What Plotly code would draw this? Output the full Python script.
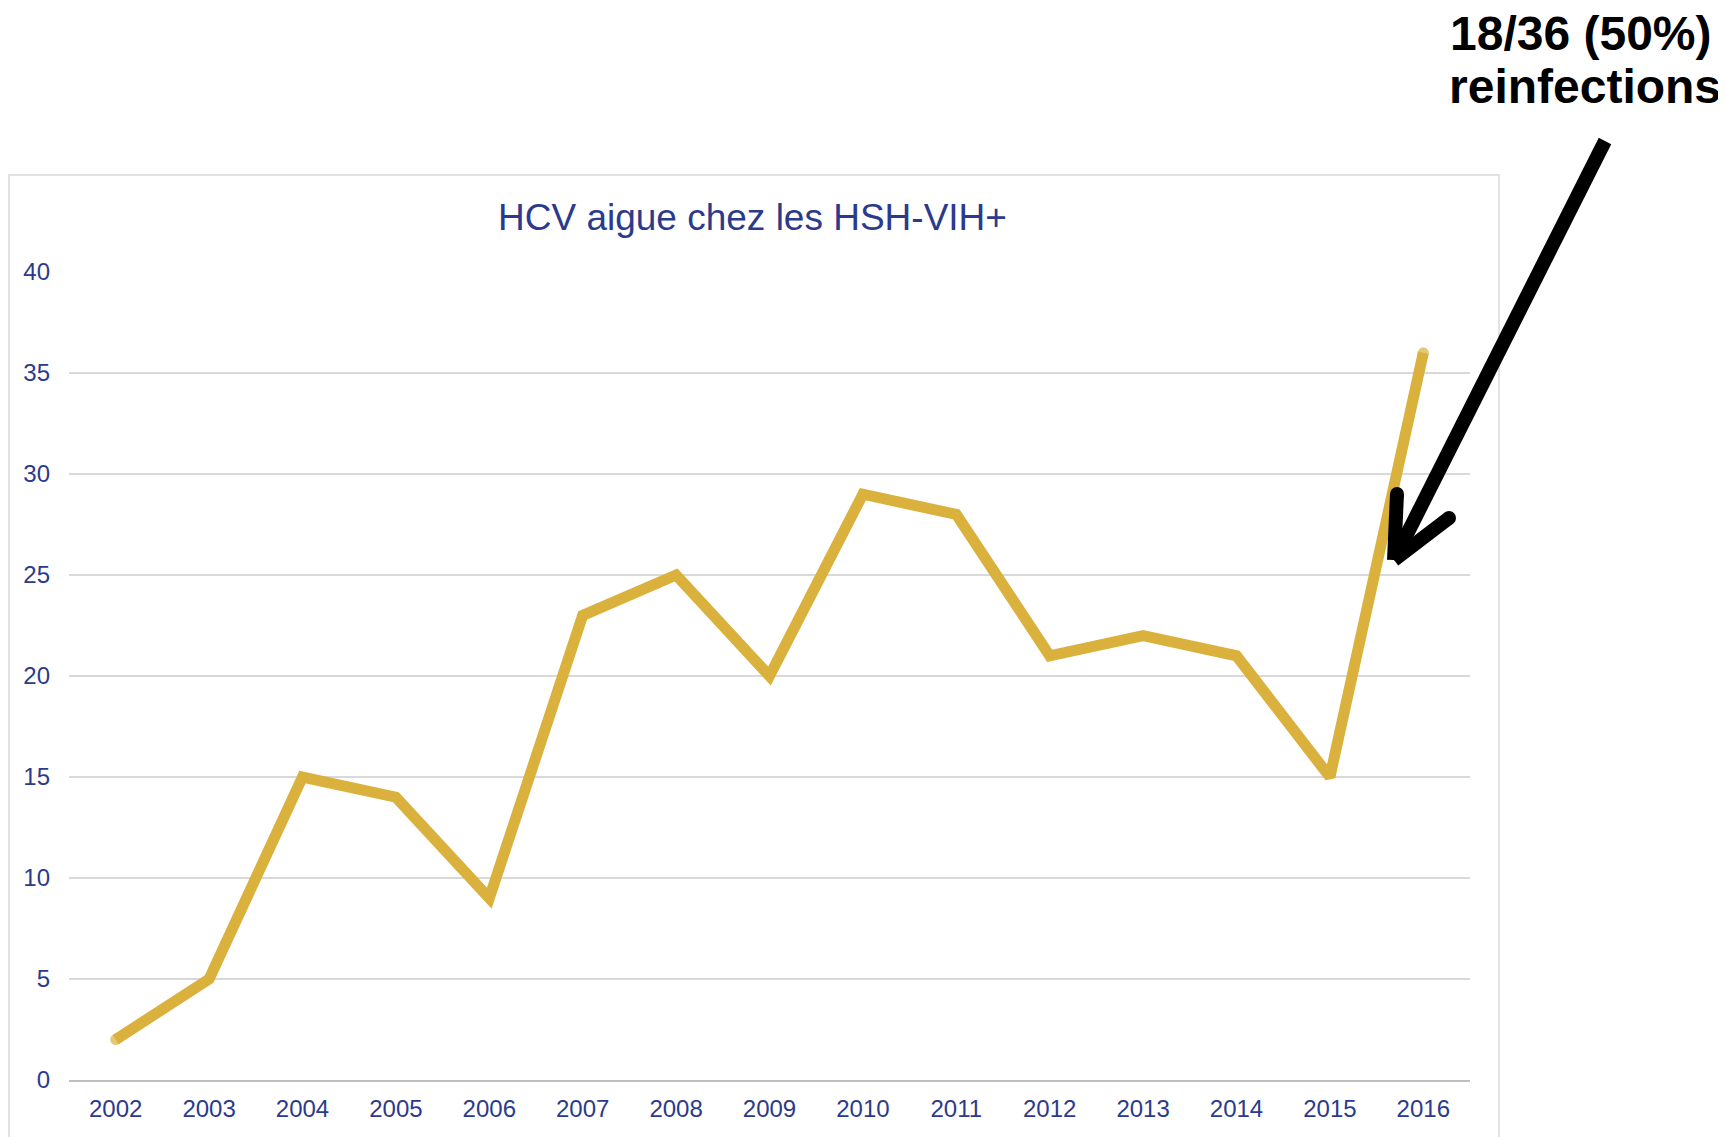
import plotly.graph_objects as go

years = ["2002", "2003", "2004", "2005", "2006", "2007", "2008", "2009",
         "2010", "2011", "2012", "2013", "2014", "2015", "2016"]
cases = [2, 5, 15, 14, 9, 23, 25, 20, 29, 28, 21, 22, 21, 15, 36]
y_ticks = [0, 5, 10, 15, 20, 25, 30, 35, 40]
title_text = "HCV aigue chez les HSH-VIH+"
note_line1 = "18/36 (50%)"
note_line2 = "reinfections"

OFF = 8                      # page body margin
W, H = 1726 - OFF, 1137 - OFF
L, R, T, B = 69, 1470, 272, 1080  # plot area bounds in page pixels

def px(x):
    return (x - L) / (R - L)

def py(y):
    return (B - y) / (B - T)

BLUE = "#2B3A8C"
GOLD = "#D9B13C"
FONT = "Liberation Sans, Arial, sans-serif"

n = len(years)
end_sizes = [11 if i in (0, n - 1) else 0 for i in range(n)]

fig = go.Figure()
fig.add_trace(go.Scatter(
    x=years, y=cases, mode="lines+markers",
    line=dict(color=GOLD, width=11),
    marker=dict(color=GOLD, size=end_sizes, line=dict(width=0)),
    hoverinfo="x+y", showlegend=False,
))

shapes = []
# chart border
shapes.append(dict(type="rect", xref="paper", yref="paper",
                   x0=px(9), x1=px(1499), y0=py(1160), y1=py(175),
                   line=dict(color="#D9D9D9", width=1.5), layer="below"))
# arrow
ARW = 14
tip = (1394, 560)
for (a, b) in [((1605, 141), tip), ((1397, 494), tip), ((1449, 518), tip)]:
    shapes.append(dict(type="line", xref="paper", yref="paper",
                       x0=px(a[0]), y0=py(a[1]), x1=px(b[0]), y1=py(b[1]),
                       line=dict(color="black", width=ARW)))
for c in [(1397, 494), (1449, 518)]:
    r = ARW / 2
    shapes.append(dict(type="circle", xref="paper", yref="paper",
                       x0=px(c[0] - r), x1=px(c[0] + r),
                       y0=py(c[1] + r), y1=py(c[1] - r),
                       fillcolor="black", line=dict(width=0)))

annotations = [
    dict(text=title_text, xref="paper", yref="paper", x=px(752), y=py(218),
         xanchor="center", yanchor="middle", showarrow=False,
         font=dict(family=FONT, size=37, color=BLUE)),
    dict(text="<b>" + note_line1 + "</b>", xref="paper", yref="paper",
         x=px(1581), y=py(34), xanchor="center", yanchor="middle",
         showarrow=False, font=dict(family=FONT, size=48, color="black")),
    dict(text="<b>" + note_line2 + "</b>", xref="paper", yref="paper",
         x=px(1585), y=py(87), xanchor="center", yanchor="middle",
         showarrow=False, font=dict(family=FONT, size=48, color="black")),
]

fig.update_layout(
    width=W, height=H,
    margin=dict(l=L - OFF, r=(OFF + W) - R, t=T - OFF, b=(OFF + H) - B, pad=0),
    paper_bgcolor="white", plot_bgcolor="white",
    showlegend=False,
    shapes=shapes, annotations=annotations,
    xaxis=dict(type="category", range=[-0.5, n - 0.5],
               showgrid=False, showline=True, linecolor="#BFBFBF", linewidth=1.5,
               ticks="", tickfont=dict(family=FONT, size=24, color=BLUE),
               ticklabelstandoff=6, zeroline=False, fixedrange=True),
    yaxis=dict(range=[0, 40], tickvals=y_ticks, showgrid=True,
               gridcolor="#D9D9D9", gridwidth=1.5, zeroline=False,
               showline=False, ticks="",
               tickfont=dict(family=FONT, size=24, color=BLUE),
               ticklabelstandoff=18, fixedrange=True),
)

fig.write_html("out.html")
